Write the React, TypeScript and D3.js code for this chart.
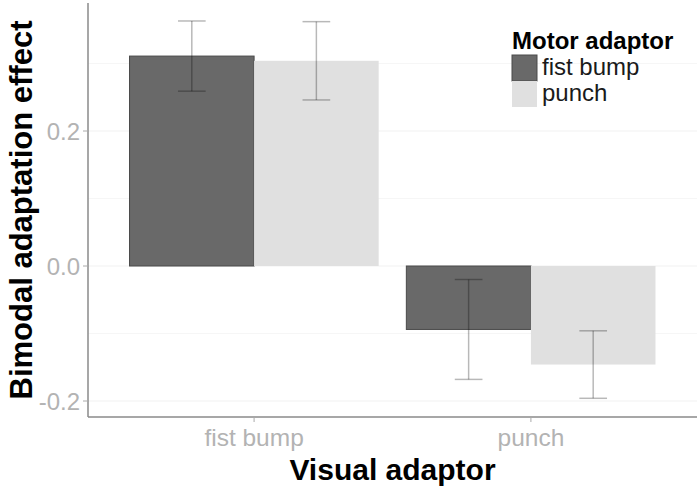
import React, { useEffect, useRef } from 'react';
import * as d3 from 'd3';

const visualAdaptors = ['fist bump', 'punch'];
const motorAdaptors = ['fist bump', 'punch'];
// mean effect per visual adaptor, one entry per motor adaptor
const means = [
    [0.311, 0.304],
    [-0.094, -0.146],
];
const lower = [
    [0.259, 0.246],
    [-0.168, -0.196],
];
const upper = [
    [0.363, 0.362],
    [-0.020, -0.096],
];
const yTicks = [-0.2, 0.0, 0.2];
const yMinor = [-0.1, 0.1, 0.3];

const fills = ['#696969', '#e0e0e0'];
const strokes = ['#4a4a4a', 'none'];

export default function App() {
    const ref = useRef<SVGSVGElement>(null);
    const width = 700;
    const height = 491;

    useEffect(() => {
        const svg = d3.select(ref.current);
        svg.selectAll('*').remove();

        const left = 88, right = 697, top = 3, bottom = 417;
        const font = '"Liberation Sans", Arial, Helvetica, sans-serif';

        // 0.2 units = 135px, zero at y=266
        const y = d3.scaleLinear().domain([-0.2, 0.2]).range([401, 131]);
        const x = d3.scaleLinear().domain([0.4, 2.6]).range([left, right]);
        const barW = 0.45;
        const capW = 0.05;

        // grid
        svg.selectAll('line.minor').data(yMinor).enter().append('line')
            .attr('x1', left).attr('x2', right)
            .attr('y1', d => y(d)).attr('y2', d => y(d))
            .attr('stroke', '#f6f6f6').attr('stroke-width', 1);
        svg.selectAll('line.major').data(yTicks).enter().append('line')
            .attr('x1', left).attr('x2', right)
            .attr('y1', d => y(d)).attr('y2', d => y(d))
            .attr('stroke', '#f2f2f2').attr('stroke-width', 1.2);

        const cells: any[] = [];
        visualAdaptors.forEach((v, i) => {
            motorAdaptors.forEach((m, j) => {
                const cx = i + 1 + (j - 0.5) * barW;
                cells.push({ v, m, j, cx, mean: means[i][j], lo: lower[i][j], hi: upper[i][j] });
            });
        });

        svg.selectAll('rect.bar').data(cells).enter().append('rect')
            .attr('x', d => x(d.cx - barW / 2))
            .attr('width', d => x(d.cx + barW / 2) - x(d.cx - barW / 2))
            .attr('y', d => y(Math.max(0, d.mean)))
            .attr('height', d => Math.abs(y(d.mean) - y(0)))
            .attr('fill', d => fills[d.j])
            .attr('stroke', d => strokes[d.j])
            .attr('stroke-width', 1);

        const err = svg.selectAll('g.err').data(cells).enter().append('g')
            .attr('stroke', 'rgba(0,0,0,0.28)').attr('stroke-width', 1.5).attr('fill', 'none');
        err.append('line')
            .attr('x1', d => x(d.cx)).attr('x2', d => x(d.cx))
            .attr('y1', d => y(d.lo)).attr('y2', d => y(d.hi));
        err.append('line')
            .attr('x1', d => x(d.cx - capW)).attr('x2', d => x(d.cx + capW))
            .attr('y1', d => y(d.lo)).attr('y2', d => y(d.lo));
        err.append('line')
            .attr('x1', d => x(d.cx - capW)).attr('x2', d => x(d.cx + capW))
            .attr('y1', d => y(d.hi)).attr('y2', d => y(d.hi));

        // axes
        svg.append('line').attr('x1', left).attr('x2', left).attr('y1', top).attr('y2', bottom)
            .attr('stroke', '#8a8a8a').attr('stroke-width', 1.5);
        svg.append('line').attr('x1', left).attr('x2', right).attr('y1', bottom).attr('y2', bottom)
            .attr('stroke', '#8a8a8a').attr('stroke-width', 1.5);

        svg.selectAll('line.ytick').data(yTicks).enter().append('line')
            .attr('x1', left - 5).attr('x2', left)
            .attr('y1', d => y(d)).attr('y2', d => y(d))
            .attr('stroke', '#aaa').attr('stroke-width', 1);
        svg.selectAll('text.ytick').data(yTicks).enter().append('text')
            .attr('x', left - 8).attr('y', d => y(d))
            .attr('dy', '0.36em')
            .attr('text-anchor', 'end')
            .attr('font-family', font).attr('font-size', 24)
            .attr('fill', '#b3b3b3')
            .text(d => d3.format('.1f')(d).replace('−', '-'));

        svg.selectAll('line.xtick').data(visualAdaptors).enter().append('line')
            .attr('x1', (d, i) => x(i + 1)).attr('x2', (d, i) => x(i + 1))
            .attr('y1', bottom).attr('y2', bottom + 5)
            .attr('stroke', '#aaa').attr('stroke-width', 1);
        svg.selectAll('text.xtick').data(visualAdaptors).enter().append('text')
            .attr('x', (d, i) => x(i + 1)).attr('y', 446)
            .attr('text-anchor', 'middle')
            .attr('font-family', font).attr('font-size', 24.5)
            .attr('fill', '#b3b3b3')
            .text(d => d);

        // axis titles
        svg.append('text')
            .attr('x', (left + right) / 2).attr('y', 480)
            .attr('text-anchor', 'middle')
            .attr('font-family', font).attr('font-size', 30).attr('font-weight', 'bold')
            .attr('fill', '#000')
            .text('Visual adaptor');
        svg.append('text')
            .attr('transform', `translate(32,${(top + bottom) / 2}) rotate(-90)`)
            .attr('text-anchor', 'middle')
            .attr('font-family', font).attr('font-size', 31).attr('font-weight', 'bold')
            .attr('fill', '#000')
            .text('Bimodal adaptation effect');

        // legend
        const lg = svg.append('g').attr('transform', 'translate(512,0)');
        lg.append('text')
            .attr('x', 0).attr('y', 49)
            .attr('font-family', font).attr('font-size', 24).attr('font-weight', 'bold')
            .attr('fill', '#000')
            .text('Motor adaptor');
        const item = lg.selectAll('g.item').data(motorAdaptors).enter().append('g')
            .attr('transform', (d, i) => `translate(0,${55 + i * 26})`);
        item.append('rect')
            .attr('width', 25).attr('height', 26)
            .attr('fill', (d, i) => fills[i])
            .attr('stroke', (d, i) => strokes[i]);
        item.append('text')
            .attr('x', 30).attr('y', 20)
            .attr('font-family', font).attr('font-size', 24)
            .attr('fill', '#1a1a1a')
            .text(d => d);
    }, []);

    return (
        <svg ref={ref} width={width} height={height}
            style={{ position: 'absolute', left: 0, top: 0, background: '#fff' }}>
        </svg>
    );
}
